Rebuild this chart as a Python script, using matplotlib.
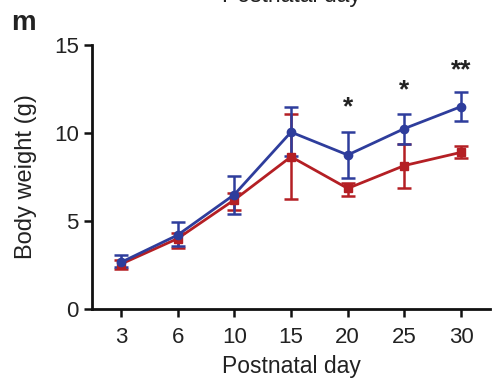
import numpy as np
import matplotlib
matplotlib.use('Agg')
import matplotlib.pyplot as plt

plt.rcParams['font.family'] = ['Liberation Sans', 'DejaVu Sans']

# Data
days = ['3', '6', '10', '15', '20', '25', '30']
blue_mean = [2.65, 4.2, 6.5, 10.05, 8.75, 10.25, 11.5]
blue_lo = [2.4, 3.6, 5.4, 8.7, 7.45, 9.4, 10.7]
blue_hi = [3.05, 4.95, 7.55, 11.45, 10.05, 11.1, 12.3]
red_mean = [2.55, 4.0, 6.2, 8.65, 6.85, 8.15, 8.9]
red_lo = [2.3, 3.45, 5.65, 6.25, 6.4, 6.9, 8.55]
red_hi = [2.8, 4.3, 6.6, 11.05, 7.15, 9.4, 9.25]
star_pos = [4, 5, 6]
star_y = [11.8, 12.8, 13.9]
star_txt = ['*', '*', '**']

blue = '#2e3d9c'
red = '#b41f24'

fig = plt.figure(figsize=(4.92, 3.81), dpi=100)
ax = fig.add_axes([0.187, 0.189, 0.809, 0.693])

x = np.arange(len(days))
for mean, lo, hi, col, mk in [(red_mean, red_lo, red_hi, red, 's'),
                              (blue_mean, blue_lo, blue_hi, blue, 'o')]:
    mean = np.array(mean)
    err = [mean - np.array(lo), np.array(hi) - mean]
    ax.errorbar(x, mean, yerr=err, color=col, marker=mk, markersize=6,
                linewidth=2.0, elinewidth=1.8, capsize=5, capthick=1.8)

for p, yy, s in zip(star_pos, star_y, star_txt):
    ax.text(p, yy - 0.35, s, ha='center', va='center', fontsize=19,
            fontweight='bold', color='#222222')

ax.set_xlim(-0.51, 6.51)
ax.set_ylim(0, 15)
ax.set_xticks(x)
ax.set_xticklabels(days)
ax.set_yticks([0, 5, 10, 15])
ax.tick_params(axis='x', pad=7)
ax.tick_params(labelsize=16, width=1.8, length=6, color='#111111', labelcolor='#222222')
for sp in ['top', 'right']:
    ax.spines[sp].set_visible(False)
for sp in ['left', 'bottom']:
    ax.spines[sp].set_linewidth(2.0)
    ax.spines[sp].set_color('#111111')

ax.set_xlabel('Postnatal day', fontsize=16.5, color='#222222', labelpad=5)
ax.set_ylabel('Body weight (g)', fontsize=17, color='#222222', labelpad=12)

fig.text(0.022, 0.94, 'm', fontsize=20, fontweight='bold', va='center', color='#222222')
fig.text(0.592, 1.012, 'Postnatal day', fontsize=16.5, ha='center', va='center', color='#222222')

fig.savefig('out.png', dpi=100)
